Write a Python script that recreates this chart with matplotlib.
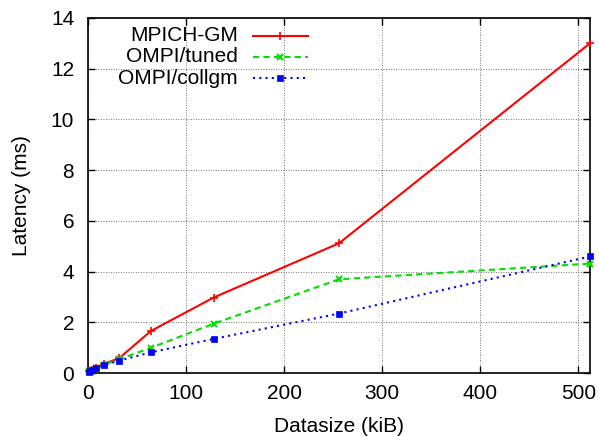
import matplotlib
matplotlib.use("Agg")
import matplotlib.pyplot as plt
from matplotlib.lines import Line2D

plt.rcParams['font.family'] = ['Liberation Sans', 'DejaVu Sans']

datasize = [1, 2, 4, 8, 16, 32, 64, 128, 256, 512]
mpich_gm = [0.08, 0.10, 0.14, 0.22, 0.36, 0.60, 1.66, 2.98, 5.12, 13.0]
ompi_tuned = [0.07, 0.09, 0.13, 0.20, 0.33, 0.55, 1.00, 1.95, 3.70, 4.32]
ompi_collgm = [0.06, 0.08, 0.12, 0.19, 0.31, 0.50, 0.82, 1.35, 2.35, 4.60]
series_names = ["MPICH-GM", "OMPI/tuned", "OMPI/collgm"]
xticks = [0, 100, 200, 300, 400, 500]
yticks = [0, 2, 4, 6, 8, 10, 12, 14]

FS = 15
fig = plt.figure(figsize=(5.99, 4.37), dpi=100)
ax = fig.add_axes([0.147, 0.146, 0.838, 0.813])

styles = [
    dict(color='#ff0000', linestyle='-', marker='+', markersize=6, lw=1.5, mew=1.2),
    dict(color='#00e000', linestyle=(0, (3, 2)), marker='x', markersize=5, lw=1.5, mew=1.5),
    dict(color='#0000ff', linestyle=(0, (1, 2)), marker='s', markersize=5, lw=1.5, mew=0.5),
]
for ys, st in zip([mpich_gm, ompi_tuned, ompi_collgm], styles):
    ax.plot(datasize, ys, clip_on=False, zorder=3, **st)

ax.set_xlim(0, 512)
ax.set_ylim(0, 14)
ax.set_xticks(xticks)
ax.set_yticks(yticks)
ax.tick_params(direction='in', top=True, right=True, labelsize=FS, length=5, width=1)
ax.tick_params(axis='x', pad=8)
ax.tick_params(axis='y', pad=10)
ax.grid(True, color='#444444', linestyle=(0, (1, 2)), lw=0.6)
for s in ax.spines.values():
    s.set_linewidth(1.2)
ax.set_xlabel("Datasize (kiB)", fontsize=FS, labelpad=10)
ax.set_ylabel("Latency (ms)", fontsize=FS, labelpad=14)

# gnuplot-style key: right-aligned text, sample to the right
key_rows_y = [35.7, 56.7, 78.3]
for name, st, ypix in zip(series_names, styles, key_rows_y):
    yf = 1 - ypix / 437
    fig.text(238 / 599, yf, name, ha='right', va='center', fontsize=FS)
    ln = Line2D([253 / 599, 308 / 599], [yf, yf], transform=fig.transFigure,
                color=st['color'], linestyle=st['linestyle'], lw=st['lw'])
    fig.add_artist(ln)
    mk = Line2D([280 / 599], [yf], transform=fig.transFigure, color=st['color'],
                marker=st['marker'], markersize=st['markersize'], mew=st['mew'], linestyle='none')
    fig.add_artist(mk)

fig.savefig("out.png", dpi=100)
